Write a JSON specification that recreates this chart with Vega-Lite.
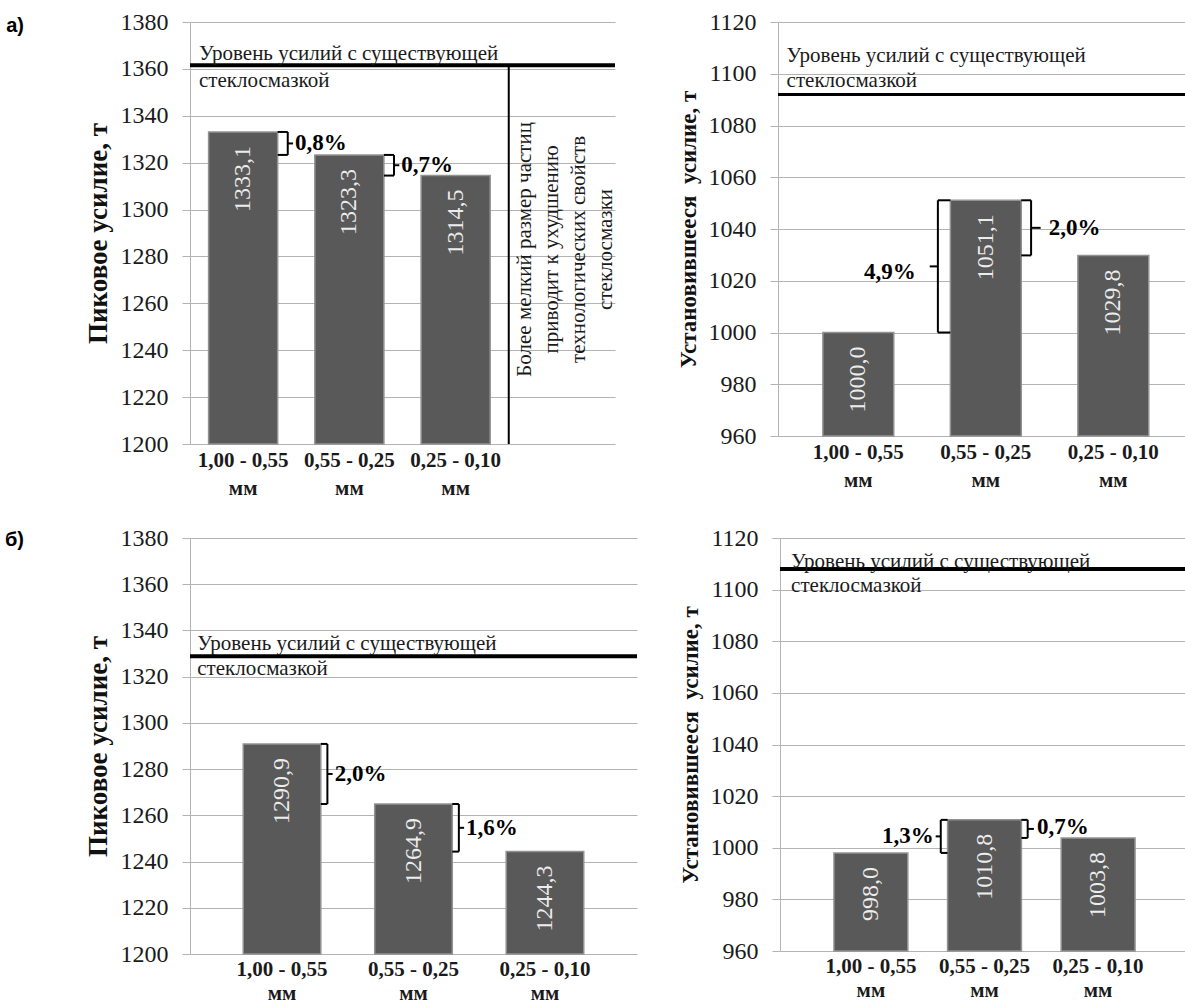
{
  "$schema": "https://vega.github.io/schema/vega-lite/v6.json",
  "padding": {"left": 4, "top": 10, "right": 0, "bottom": 0},
  "datasets": {
    "bars": [
      {"panel": "a1", "cat": "1,00 - 0,55", "value": 1333.1},
      {"panel": "a1", "cat": "0,55 - 0,25", "value": 1323.3},
      {"panel": "a1", "cat": "0,25 - 0,10", "value": 1314.5},
      {"panel": "a2", "cat": "1,00 - 0,55", "value": 1000.0},
      {"panel": "a2", "cat": "0,55 - 0,25", "value": 1051.1},
      {"panel": "a2", "cat": "0,25 - 0,10", "value": 1029.8},
      {"panel": "b1", "cat": "1,00 - 0,55", "value": 1290.9},
      {"panel": "b1", "cat": "0,55 - 0,25", "value": 1264.9},
      {"panel": "b1", "cat": "0,25 - 0,10", "value": 1244.3},
      {"panel": "b2", "cat": "1,00 - 0,55", "value": 998.0},
      {"panel": "b2", "cat": "0,55 - 0,25", "value": 1010.8},
      {"panel": "b2", "cat": "0,25 - 0,10", "value": 1003.8}
    ],
    "levels": [
      {"panel": "a1", "level": 1361.5, "caption": "Уровень усилий с существующей\nстеклосмазкой", "remark": "Более мелкий размер частиц\nприводит к ухудшению\nтехнологических свойств\nстеклосмазки"},
      {"panel": "a2", "level": 1092, "caption": "Уровень усилий с существующей\nстеклосмазкой", "remark": ""},
      {"panel": "b1", "level": 1328.8, "caption": "Уровень усилий с существующей\nстеклосмазкой", "remark": ""},
      {"panel": "b2", "level": 1108, "caption": "Уровень усилий с существующей\nстеклосмазкой", "remark": ""}
    ],
    "brackets": [
      {"panel": "a1", "br": "a1x", "side": "R", "cat": "1,00 - 0,55", "v": 1333.1, "pct": 0.008},
      {"panel": "a1", "br": "a1x", "side": "R", "cat": "1,00 - 0,55", "v": 1323.3, "pct": 0.008},
      {"panel": "a1", "br": "a1y", "side": "R", "cat": "0,55 - 0,25", "v": 1323.3, "pct": 0.007},
      {"panel": "a1", "br": "a1y", "side": "R", "cat": "0,55 - 0,25", "v": 1314.5, "pct": 0.007},
      {"panel": "a2", "br": "a2x", "side": "L", "cat": "0,55 - 0,25", "v": 1000.0, "pct": 0.049},
      {"panel": "a2", "br": "a2x", "side": "L", "cat": "0,55 - 0,25", "v": 1051.1, "pct": 0.049},
      {"panel": "a2", "br": "a2y", "side": "R", "cat": "0,55 - 0,25", "v": 1051.1, "pct": 0.02},
      {"panel": "a2", "br": "a2y", "side": "R", "cat": "0,55 - 0,25", "v": 1029.8, "pct": 0.02},
      {"panel": "b1", "br": "b1x", "side": "R", "cat": "1,00 - 0,55", "v": 1290.9, "pct": 0.02},
      {"panel": "b1", "br": "b1x", "side": "R", "cat": "1,00 - 0,55", "v": 1264.9, "pct": 0.02},
      {"panel": "b1", "br": "b1y", "side": "R", "cat": "0,55 - 0,25", "v": 1264.9, "pct": 0.016},
      {"panel": "b1", "br": "b1y", "side": "R", "cat": "0,55 - 0,25", "v": 1244.3, "pct": 0.016},
      {"panel": "b2", "br": "b2x", "side": "L", "cat": "0,55 - 0,25", "v": 998.0, "pct": 0.013},
      {"panel": "b2", "br": "b2x", "side": "L", "cat": "0,55 - 0,25", "v": 1010.8, "pct": 0.013},
      {"panel": "b2", "br": "b2y", "side": "R", "cat": "0,55 - 0,25", "v": 1010.8, "pct": 0.007},
      {"panel": "b2", "br": "b2y", "side": "R", "cat": "0,55 - 0,25", "v": 1003.8, "pct": 0.007}
    ]
  },
  "spacing": 28,
  "vconcat": [
    {
      "title": {"text": "а)", "orient": "left", "anchor": "end", "angle": 0, "align": "left", "baseline": "top", "font": "Liberation Sans", "fontSize": 20, "fontWeight": "bold", "color": "#000", "offset": 60, "dy": 6},
      "spacing": 60,
      "hconcat": [
        {
          "width": 425, "height": 422,
          "layer": [
            {
              "data": {"name": "bars"}, "transform": [{"filter": "datum.panel === 'a1'"}],
              "mark": {"type": "bar", "width": {"band": 0.65}, "fill": "#595959", "stroke": "#929292", "strokeWidth": 1.5},
              "encoding": {
                "x": {"field": "cat", "type": "nominal", "sort": null,
                  "scale": {"domain": ["1,00 - 0,55", "0,55 - 0,25", "0,25 - 0,10", "note"], "paddingInner": 0, "paddingOuter": 0},
                  "axis": {"title": null, "labelFont": "Liberation Serif", "labelExpr": "datum.value === 'note' ? '' : [datum.value, 'мм']"}},
                "y": {"field": "value", "type": "quantitative",
                  "scale": {"domain": [1200, 1380], "nice": false, "zero": false},
                  "axis": {"title": "Пиковое усилие, т", "labelFont": "Liberation Serif", "titleFont": "Liberation Serif", "values": [1200, 1220, 1240, 1260, 1280, 1300, 1320, 1340, 1360, 1380], "format": "d", "titleFontSize": 27}},
                "y2": {"datum": 1200}
              }
            },
            {
              "data": {"name": "bars"}, "transform": [{"filter": "datum.panel === 'a1'"}],
              "mark": {"type": "text", "angle": 270, "align": "right", "baseline": "middle", "dx": -14, "fontSize": 24, "color": "#ececec"},
              "encoding": {
                "x": {"field": "cat", "type": "nominal"},
                "y": {"field": "value", "type": "quantitative"},
                "text": {"field": "value", "type": "quantitative", "format": ".1f"}
              }
            },
            {
              "data": {"name": "levels"}, "transform": [{"filter": "datum.panel === 'a1'"}],
              "mark": {"type": "rule", "strokeWidth": 4, "color": "#000"},
              "encoding": {"y": {"field": "level", "type": "quantitative"}}
            },
            {
              "data": {"name": "levels"}, "transform": [{"filter": "datum.panel === 'a1'"}],
              "mark": {"type": "text", "align": "left", "baseline": "middle", "lineBreak": "\n", "lineHeight": 27, "fontSize": 21, "dx": 9, "dy": -11, "color": "#1a1a1a"},
              "encoding": {
                "x": {"datum": "1,00 - 0,55", "type": "nominal", "bandPosition": 0},
                "y": {"field": "level", "type": "quantitative"},
                "text": {"field": "caption"}
              }
            },
            {
              "data": {"name": "levels"}, "transform": [{"filter": "datum.panel === 'a1'"}],
              "mark": {"type": "rule", "strokeWidth": 2, "color": "#000"},
              "encoding": {
                "x": {"datum": "note", "type": "nominal", "bandPosition": 0},
                "y": {"field": "level", "type": "quantitative"},
                "y2": {"datum": 1200}
              }
            },
            {
              "data": {"name": "levels"}, "transform": [{"filter": "datum.panel === 'a1'"}],
              "mark": {"type": "text", "angle": 270, "align": "center", "baseline": "middle", "lineBreak": "\n", "lineHeight": 27, "fontSize": 21, "dy": -37, "color": "#1a1a1a"},
              "encoding": {
                "x": {"datum": "note", "type": "nominal", "bandPosition": 0.5},
                "y": {"datum": 1283, "type": "quantitative"},
                "text": {"field": "remark"}
              }
            },
            {
              "data": {"name": "brackets"}, "transform": [{"filter": "datum.panel === 'a1'"}],
              "mark": {"type": "rule", "strokeWidth": 2, "color": "#000"},
              "encoding": {
                "x": {"field": "cat", "type": "nominal", "bandPosition": 0.825},
                "x2": {"field": "cat", "bandPosition": 0.92},
                "y": {"field": "v", "type": "quantitative"}
              }
            },
            {
              "data": {"name": "brackets"}, "transform": [{"filter": "datum.panel === 'a1'"}],
              "mark": {"type": "rule", "strokeWidth": 2, "color": "#000"},
              "encoding": {
                "x": {"field": "cat", "type": "nominal", "bandPosition": 0.92},
                "y": {"aggregate": "min", "field": "v", "type": "quantitative"},
                "y2": {"aggregate": "max", "field": "v"},
                "detail": {"field": "br"}
              }
            },
            {
              "data": {"name": "brackets"}, "transform": [{"filter": "datum.panel === 'a1'"}],
              "mark": {"type": "rule", "strokeWidth": 2, "color": "#000"},
              "encoding": {
                "x": {"field": "cat", "type": "nominal", "bandPosition": 0.92},
                "x2": {"field": "cat", "bandPosition": 0.97},
                "y": {"aggregate": "mean", "field": "v", "type": "quantitative"},
                "detail": {"field": "br"}
              }
            },
            {
              "data": {"name": "brackets"}, "transform": [{"filter": "datum.panel === 'a1'"}],
              "mark": {"type": "text", "align": "left", "baseline": "middle", "dx": 2, "fontSize": 23, "fontWeight": "bold", "color": "#000"},
              "encoding": {
                "x": {"field": "cat", "type": "nominal", "bandPosition": 0.97},
                "y": {"aggregate": "mean", "field": "v", "type": "quantitative"},
                "text": {"field": "pct", "type": "quantitative", "format": ".1%"},
                "detail": {"field": "br"}
              }
            }
          ]
        },
        {
          "width": 408, "height": 414,
          "layer": [
            {
              "data": {"name": "bars"}, "transform": [{"filter": "datum.panel === 'a2'"}],
              "mark": {"type": "bar", "width": {"band": 0.556}, "fill": "#595959", "stroke": "#929292", "strokeWidth": 1.5},
              "encoding": {
                "x": {"field": "cat", "type": "nominal", "sort": null,
                  "scale": {"domain": ["1,00 - 0,55", "0,55 - 0,25", "0,25 - 0,10"], "paddingInner": 0, "paddingOuter": 0.1, "align": 0.65},
                  "axis": {"title": null, "labelFont": "Liberation Serif", "labelExpr": "[datum.value, 'мм']"}},
                "y": {"field": "value", "type": "quantitative",
                  "scale": {"domain": [960, 1120], "nice": false, "zero": false},
                  "axis": {"title": "Установившееся\u00a0 усилие, т", "labelFont": "Liberation Serif", "titleFont": "Liberation Serif", "values": [960, 980, 1000, 1020, 1040, 1060, 1080, 1100, 1120], "format": "d", "titleFontSize": 23}},
                "y2": {"datum": 960}
              }
            },
            {
              "data": {"name": "bars"}, "transform": [{"filter": "datum.panel === 'a2'"}],
              "mark": {"type": "text", "angle": 270, "align": "right", "baseline": "middle", "dx": -14, "fontSize": 24, "color": "#ececec"},
              "encoding": {
                "x": {"field": "cat", "type": "nominal"},
                "y": {"field": "value", "type": "quantitative"},
                "text": {"field": "value", "type": "quantitative", "format": ".1f"}
              }
            },
            {
              "data": {"name": "levels"}, "transform": [{"filter": "datum.panel === 'a2'"}],
              "mark": {"type": "rule", "strokeWidth": 3, "color": "#000"},
              "encoding": {"y": {"field": "level", "type": "quantitative"}}
            },
            {
              "data": {"name": "levels"}, "transform": [{"filter": "datum.panel === 'a2'"}],
              "mark": {"type": "text", "align": "left", "baseline": "middle", "lineBreak": "\n", "lineHeight": 25, "fontSize": 21, "dx": -8, "dy": -38, "color": "#1a1a1a"},
              "encoding": {
                "x": {"datum": "1,00 - 0,55", "type": "nominal", "bandPosition": 0},
                "y": {"field": "level", "type": "quantitative"},
                "text": {"field": "caption"}
              }
            },
            {
              "data": {"name": "brackets"}, "transform": [{"filter": "datum.panel === 'a2' && datum.side === 'R'"}],
              "mark": {"type": "rule", "strokeWidth": 2, "color": "#000"},
              "encoding": {
                "x": {"field": "cat", "type": "nominal", "bandPosition": 0.778},
                "x2": {"field": "cat", "bandPosition": 0.855},
                "y": {"field": "v", "type": "quantitative"}
              }
            },
            {
              "data": {"name": "brackets"}, "transform": [{"filter": "datum.panel === 'a2' && datum.side === 'R'"}],
              "mark": {"type": "rule", "strokeWidth": 2, "color": "#000"},
              "encoding": {
                "x": {"field": "cat", "type": "nominal", "bandPosition": 0.855},
                "y": {"aggregate": "min", "field": "v", "type": "quantitative"},
                "y2": {"aggregate": "max", "field": "v"},
                "detail": {"field": "br"}
              }
            },
            {
              "data": {"name": "brackets"}, "transform": [{"filter": "datum.panel === 'a2' && datum.side === 'R'"}],
              "mark": {"type": "rule", "strokeWidth": 2, "color": "#000"},
              "encoding": {
                "x": {"field": "cat", "type": "nominal", "bandPosition": 0.855},
                "x2": {"field": "cat", "bandPosition": 0.93},
                "y": {"aggregate": "mean", "field": "v", "type": "quantitative"},
                "detail": {"field": "br"}
              }
            },
            {
              "data": {"name": "brackets"}, "transform": [{"filter": "datum.panel === 'a2' && datum.side === 'R'"}],
              "mark": {"type": "text", "align": "left", "baseline": "middle", "dx": 8, "fontSize": 23, "fontWeight": "bold", "color": "#000"},
              "encoding": {
                "x": {"field": "cat", "type": "nominal", "bandPosition": 0.93},
                "y": {"aggregate": "mean", "field": "v", "type": "quantitative"},
                "text": {"field": "pct", "type": "quantitative", "format": ".1%"},
                "detail": {"field": "br"}
              }
            },
            {
              "data": {"name": "brackets"}, "transform": [{"filter": "datum.panel === 'a2' && datum.side === 'L'"}],
              "mark": {"type": "rule", "strokeWidth": 2, "color": "#000"},
              "encoding": {
                "x": {"field": "cat", "type": "nominal", "bandPosition": 0.124},
                "x2": {"field": "cat", "bandPosition": 0.222},
                "y": {"field": "v", "type": "quantitative"}
              }
            },
            {
              "data": {"name": "brackets"}, "transform": [{"filter": "datum.panel === 'a2' && datum.side === 'L'"}],
              "mark": {"type": "rule", "strokeWidth": 2, "color": "#000"},
              "encoding": {
                "x": {"field": "cat", "type": "nominal", "bandPosition": 0.124},
                "y": {"aggregate": "min", "field": "v", "type": "quantitative"},
                "y2": {"aggregate": "max", "field": "v"},
                "detail": {"field": "br"}
              }
            },
            {
              "data": {"name": "brackets"}, "transform": [{"filter": "datum.panel === 'a2' && datum.side === 'L'"}],
              "mark": {"type": "rule", "strokeWidth": 2, "color": "#000"},
              "encoding": {
                "x": {"field": "cat", "type": "nominal", "bandPosition": 0.06},
                "x2": {"field": "cat", "bandPosition": 0.124},
                "y": {"aggregate": "mean", "field": "v", "type": "quantitative"},
                "detail": {"field": "br"}
              }
            },
            {
              "data": {"name": "brackets"}, "transform": [{"filter": "datum.panel === 'a2' && datum.side === 'L'"}],
              "mark": {"type": "text", "align": "right", "baseline": "middle", "dx": -14, "dy": 6, "fontSize": 23, "fontWeight": "bold", "color": "#000"},
              "encoding": {
                "x": {"field": "cat", "type": "nominal", "bandPosition": 0.06},
                "y": {"aggregate": "mean", "field": "v", "type": "quantitative"},
                "text": {"field": "pct", "type": "quantitative", "format": ".1%"},
                "detail": {"field": "br"}
              }
            }
          ]
        }
      ]
    },
    {
      "title": {"text": "б)", "orient": "left", "anchor": "end", "angle": 0, "align": "left", "baseline": "top", "font": "Liberation Sans", "fontSize": 20, "fontWeight": "bold", "color": "#000", "offset": 60, "dy": 4},
      "spacing": 40,
      "hconcat": [
        {
          "width": 447, "height": 416,
          "layer": [
            {
              "data": {"name": "bars"}, "transform": [{"filter": "datum.panel === 'b1'"}],
              "mark": {"type": "bar", "width": {"band": 0.59}, "fill": "#595959", "stroke": "#929292", "strokeWidth": 1.5},
              "encoding": {
                "x": {"field": "cat", "type": "nominal", "sort": null,
                  "scale": {"domain": ["1,00 - 0,55", "0,55 - 0,25", "0,25 - 0,10"], "paddingInner": 0, "paddingOuter": 0.2, "align": 0.5},
                  "axis": {"title": null, "labelFont": "Liberation Serif", "labelLineHeight": 24, "labelPadding": 4, "labelExpr": "[datum.value, 'мм']"}},
                "y": {"field": "value", "type": "quantitative",
                  "scale": {"domain": [1200, 1380], "nice": false, "zero": false},
                  "axis": {"title": "Пиковое усилие, т", "labelFont": "Liberation Serif", "titleFont": "Liberation Serif", "values": [1200, 1220, 1240, 1260, 1280, 1300, 1320, 1340, 1360, 1380], "format": "d", "titleFontSize": 27}},
                "y2": {"datum": 1200}
              }
            },
            {
              "data": {"name": "bars"}, "transform": [{"filter": "datum.panel === 'b1'"}],
              "mark": {"type": "text", "angle": 270, "align": "right", "baseline": "middle", "dx": -14, "fontSize": 24, "color": "#ececec"},
              "encoding": {
                "x": {"field": "cat", "type": "nominal"},
                "y": {"field": "value", "type": "quantitative"},
                "text": {"field": "value", "type": "quantitative", "format": ".1f"}
              }
            },
            {
              "data": {"name": "levels"}, "transform": [{"filter": "datum.panel === 'b1'"}],
              "mark": {"type": "rule", "strokeWidth": 4, "color": "#000"},
              "encoding": {"y": {"field": "level", "type": "quantitative"}}
            },
            {
              "data": {"name": "levels"}, "transform": [{"filter": "datum.panel === 'b1'"}],
              "mark": {"type": "text", "align": "left", "baseline": "middle", "lineBreak": "\n", "lineHeight": 25, "fontSize": 21, "dx": -19, "dy": -12, "color": "#1a1a1a"},
              "encoding": {
                "x": {"datum": "1,00 - 0,55", "type": "nominal", "bandPosition": 0},
                "y": {"field": "level", "type": "quantitative"},
                "text": {"field": "caption"}
              }
            },
            {
              "data": {"name": "brackets"}, "transform": [{"filter": "datum.panel === 'b1'"}],
              "mark": {"type": "rule", "strokeWidth": 2, "color": "#000"},
              "encoding": {
                "x": {"field": "cat", "type": "nominal", "bandPosition": 0.795},
                "x2": {"field": "cat", "bandPosition": 0.845},
                "y": {"field": "v", "type": "quantitative"}
              }
            },
            {
              "data": {"name": "brackets"}, "transform": [{"filter": "datum.panel === 'b1'"}],
              "mark": {"type": "rule", "strokeWidth": 2, "color": "#000"},
              "encoding": {
                "x": {"field": "cat", "type": "nominal", "bandPosition": 0.845},
                "y": {"aggregate": "min", "field": "v", "type": "quantitative"},
                "y2": {"aggregate": "max", "field": "v"},
                "detail": {"field": "br"}
              }
            },
            {
              "data": {"name": "brackets"}, "transform": [{"filter": "datum.panel === 'b1'"}],
              "mark": {"type": "rule", "strokeWidth": 2, "color": "#000"},
              "encoding": {
                "x": {"field": "cat", "type": "nominal", "bandPosition": 0.845},
                "x2": {"field": "cat", "bandPosition": 0.885},
                "y": {"aggregate": "mean", "field": "v", "type": "quantitative"},
                "detail": {"field": "br"}
              }
            },
            {
              "data": {"name": "brackets"}, "transform": [{"filter": "datum.panel === 'b1'"}],
              "mark": {"type": "text", "align": "left", "baseline": "middle", "dx": 2, "fontSize": 23, "fontWeight": "bold", "color": "#000"},
              "encoding": {
                "x": {"field": "cat", "type": "nominal", "bandPosition": 0.885},
                "y": {"aggregate": "mean", "field": "v", "type": "quantitative"},
                "text": {"field": "pct", "type": "quantitative", "format": ".1%"},
                "detail": {"field": "br"}
              }
            }
          ]
        },
        {
          "width": 409, "height": 413,
          "layer": [
            {
              "data": {"name": "bars"}, "transform": [{"filter": "datum.panel === 'b2'"}],
              "mark": {"type": "bar", "width": {"band": 0.65}, "fill": "#595959", "stroke": "#929292", "strokeWidth": 1.5},
              "encoding": {
                "x": {"field": "cat", "type": "nominal", "sort": null,
                  "scale": {"domain": ["1,00 - 0,55", "0,55 - 0,25", "0,25 - 0,10"], "paddingInner": 0, "paddingOuter": 0.3, "align": 0.5},
                  "axis": {"title": null, "labelFont": "Liberation Serif", "labelLineHeight": 24, "labelPadding": 4, "labelExpr": "[datum.value, 'мм']"}},
                "y": {"field": "value", "type": "quantitative",
                  "scale": {"domain": [960, 1120], "nice": false, "zero": false},
                  "axis": {"title": "Установившееся\u00a0 усилие, т", "labelFont": "Liberation Serif", "titleFont": "Liberation Serif", "values": [960, 980, 1000, 1020, 1040, 1060, 1080, 1100, 1120], "format": "d", "titleFontSize": 23}},
                "y2": {"datum": 960}
              }
            },
            {
              "data": {"name": "bars"}, "transform": [{"filter": "datum.panel === 'b2'"}],
              "mark": {"type": "text", "angle": 270, "align": "right", "baseline": "middle", "dx": -14, "fontSize": 24, "color": "#ececec"},
              "encoding": {
                "x": {"field": "cat", "type": "nominal"},
                "y": {"field": "value", "type": "quantitative"},
                "text": {"field": "value", "type": "quantitative", "format": ".1f"}
              }
            },
            {
              "data": {"name": "levels"}, "transform": [{"filter": "datum.panel === 'b2'"}],
              "mark": {"type": "rule", "strokeWidth": 4, "color": "#000"},
              "encoding": {"y": {"field": "level", "type": "quantitative"}}
            },
            {
              "data": {"name": "levels"}, "transform": [{"filter": "datum.panel === 'b2'"}],
              "mark": {"type": "text", "align": "left", "baseline": "middle", "lineBreak": "\n", "lineHeight": 24, "fontSize": 21, "dx": -23, "dy": -7, "color": "#1a1a1a"},
              "encoding": {
                "x": {"datum": "1,00 - 0,55", "type": "nominal", "bandPosition": 0},
                "y": {"field": "level", "type": "quantitative"},
                "text": {"field": "caption"}
              }
            },
            {
              "data": {"name": "brackets"}, "transform": [{"filter": "datum.panel === 'b2' && datum.side === 'R'"}],
              "mark": {"type": "rule", "strokeWidth": 2, "color": "#000"},
              "encoding": {
                "x": {"field": "cat", "type": "nominal", "bandPosition": 0.825},
                "x2": {"field": "cat", "bandPosition": 0.88},
                "y": {"field": "v", "type": "quantitative"}
              }
            },
            {
              "data": {"name": "brackets"}, "transform": [{"filter": "datum.panel === 'b2' && datum.side === 'R'"}],
              "mark": {"type": "rule", "strokeWidth": 2, "color": "#000"},
              "encoding": {
                "x": {"field": "cat", "type": "nominal", "bandPosition": 0.88},
                "y": {"aggregate": "min", "field": "v", "type": "quantitative"},
                "y2": {"aggregate": "max", "field": "v"},
                "detail": {"field": "br"}
              }
            },
            {
              "data": {"name": "brackets"}, "transform": [{"filter": "datum.panel === 'b2' && datum.side === 'R'"}],
              "mark": {"type": "rule", "strokeWidth": 2, "color": "#000"},
              "encoding": {
                "x": {"field": "cat", "type": "nominal", "bandPosition": 0.88},
                "x2": {"field": "cat", "bandPosition": 0.935},
                "y": {"aggregate": "mean", "field": "v", "type": "quantitative"},
                "detail": {"field": "br"}
              }
            },
            {
              "data": {"name": "brackets"}, "transform": [{"filter": "datum.panel === 'b2' && datum.side === 'R'"}],
              "mark": {"type": "text", "align": "left", "baseline": "middle", "dx": 3, "dy": -2, "fontSize": 23, "fontWeight": "bold", "color": "#000"},
              "encoding": {
                "x": {"field": "cat", "type": "nominal", "bandPosition": 0.935},
                "y": {"aggregate": "mean", "field": "v", "type": "quantitative"},
                "text": {"field": "pct", "type": "quantitative", "format": ".1%"},
                "detail": {"field": "br"}
              }
            },
            {
              "data": {"name": "brackets"}, "transform": [{"filter": "datum.panel === 'b2' && datum.side === 'L'"}],
              "mark": {"type": "rule", "strokeWidth": 2, "color": "#000"},
              "encoding": {
                "x": {"field": "cat", "type": "nominal", "bandPosition": 0.115},
                "x2": {"field": "cat", "bandPosition": 0.175},
                "y": {"field": "v", "type": "quantitative"}
              }
            },
            {
              "data": {"name": "brackets"}, "transform": [{"filter": "datum.panel === 'b2' && datum.side === 'L'"}],
              "mark": {"type": "rule", "strokeWidth": 2, "color": "#000"},
              "encoding": {
                "x": {"field": "cat", "type": "nominal", "bandPosition": 0.115},
                "y": {"aggregate": "min", "field": "v", "type": "quantitative"},
                "y2": {"aggregate": "max", "field": "v"},
                "detail": {"field": "br"}
              }
            },
            {
              "data": {"name": "brackets"}, "transform": [{"filter": "datum.panel === 'b2' && datum.side === 'L'"}],
              "mark": {"type": "rule", "strokeWidth": 2, "color": "#000"},
              "encoding": {
                "x": {"field": "cat", "type": "nominal", "bandPosition": 0.07},
                "x2": {"field": "cat", "bandPosition": 0.115},
                "y": {"aggregate": "mean", "field": "v", "type": "quantitative"},
                "detail": {"field": "br"}
              }
            },
            {
              "data": {"name": "brackets"}, "transform": [{"filter": "datum.panel === 'b2' && datum.side === 'L'"}],
              "mark": {"type": "text", "align": "right", "baseline": "middle", "dx": -2, "fontSize": 23, "fontWeight": "bold", "color": "#000"},
              "encoding": {
                "x": {"field": "cat", "type": "nominal", "bandPosition": 0.07},
                "y": {"aggregate": "mean", "field": "v", "type": "quantitative"},
                "text": {"field": "pct", "type": "quantitative", "format": ".1%"},
                "detail": {"field": "br"}
              }
            }
          ]
        }
      ]
    }
  ],
  "config": {
    "view": {"stroke": null},
    "font": "Liberation Serif",
    "locale": {"number": {"decimal": ",", "thousands": "", "grouping": [3], "currency": ["", ""]}},
    "text": {"font": "Liberation Serif"},
    "style": {"guide-label": {"font": "Liberation Serif"}, "guide-title": {"font": "Liberation Serif"}},
    "axis": {
      "labelFont": "Liberation Serif", "titleFont": "Liberation Serif",
      "gridColor": "#b3b3b3", "domainColor": "#b3b3b3", "tickColor": "#b3b3b3",
      "labelColor": "#1a1a1a", "titleColor": "#111111"
    },
    "axisY": {"grid": true, "tickSize": 8, "labelPadding": 14, "labelFontSize": 24, "labelFont": "Liberation Serif", "titleFont": "Liberation Serif", "titleFontWeight": "bold", "titlePadding": 8},
    "axisX": {"grid": false, "ticks": false, "domain": false, "labelAngle": 0, "labelFont": "Liberation Serif", "labelFontSize": 21, "labelFontWeight": "bold", "labelLineHeight": 28, "labelPadding": 5}
  }
}
